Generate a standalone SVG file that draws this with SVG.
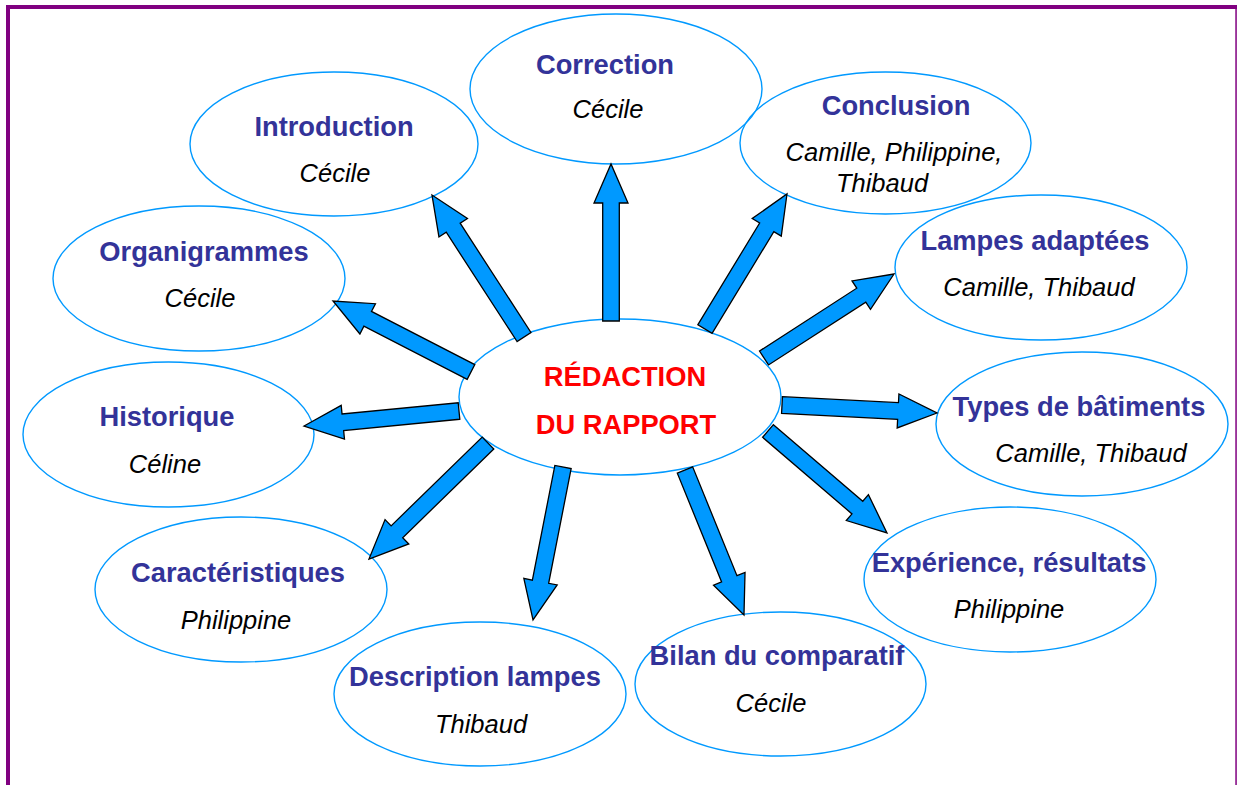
<svg xmlns="http://www.w3.org/2000/svg" width="1237" height="785" viewBox="0 0 1237 785">
<style>
.node ellipse{fill:none;stroke:#0099FF;stroke-width:1.4}
.t{font-family:"Liberation Sans",Arial,sans-serif;font-weight:bold;font-size:27.3px;fill:#333399;text-anchor:middle}
.s{font-family:"Liberation Sans",Arial,sans-serif;font-style:italic;font-size:25.5px;fill:#000;text-anchor:middle}
.c{font-family:"Liberation Sans",Arial,sans-serif;font-weight:bold;font-size:27.3px;fill:#FF0000;text-anchor:middle}
.arr polygon{fill:#0099FF;stroke:#000;stroke-width:1.3;stroke-linejoin:miter}
</style>
<rect width="1237" height="785" fill="#fff"/>
<g id="border" fill="#800080">
<rect x="6" y="5" width="1231" height="4"/>
<rect x="6" y="5" width="4" height="780"/>
<rect x="1235.3" y="5" width="1.5" height="780"/>
</g>
<g id="n-center" class="node"><ellipse cx="620" cy="397" rx="161" ry="78"/><text class="c" x="625" y="386">RÉDACTION</text><text class="c" x="626" y="434">DU RAPPORT</text></g>
<g id="n-correction" class="node"><ellipse cx="616" cy="89" rx="146" ry="75"/><text class="t" x="605" y="74">Correction</text><text class="s" x="608" y="118">Cécile</text></g>
<g id="n-introduction" class="node"><ellipse cx="334" cy="144" rx="144" ry="72"/><text class="t" x="334" y="136">Introduction</text><text class="s" x="335" y="182">Cécile</text></g>
<g id="n-conclusion" class="node"><ellipse cx="885.5" cy="143" rx="145.5" ry="71"/><text class="t" x="896" y="115">Conclusion</text><text class="s" x="894" y="161">Camille, Philippine,</text><text class="s" x="882" y="192">Thibaud</text></g>
<g id="n-organigrammes" class="node"><ellipse cx="199" cy="278.5" rx="146" ry="72.5"/><text class="t" x="204" y="261">Organigrammes</text><text class="s" x="200" y="307">Cécile</text></g>
<g id="n-lampes" class="node"><ellipse cx="1041" cy="267.5" rx="146" ry="72.5"/><text class="t" x="1035" y="250">Lampes adaptées</text><text class="s" x="1039" y="296">Camille, Thibaud</text></g>
<g id="n-historique" class="node"><ellipse cx="168.5" cy="434.5" rx="145.5" ry="72.5"/><text class="t" x="167" y="426">Historique</text><text class="s" x="165" y="473">Céline</text></g>
<g id="n-types" class="node"><ellipse cx="1082" cy="424" rx="146" ry="72"/><text class="t" x="1079" y="416">Types de bâtiments</text><text class="s" x="1091" y="462">Camille, Thibaud</text></g>
<g id="n-caracteristiques" class="node"><ellipse cx="241" cy="589.5" rx="146" ry="72.5"/><text class="t" x="238" y="582">Caractéristiques</text><text class="s" x="236" y="629">Philippine</text></g>
<g id="n-experience" class="node"><ellipse cx="1010" cy="579.5" rx="146" ry="72.5"/><text class="t" x="1009" y="572">Expérience, résultats</text><text class="s" x="1009" y="618">Philippine</text></g>
<g id="n-description" class="node"><ellipse cx="480" cy="694" rx="146" ry="72"/><text class="t" x="475" y="686">Description lampes</text><text class="s" x="481" y="733">Thibaud</text></g>
<g id="n-bilan" class="node"><ellipse cx="780.5" cy="684" rx="145.5" ry="72"/><text class="t" x="777" y="665">Bilan du comparatif</text><text class="s" x="771" y="712">Cécile</text></g>
<g id="connectors" class="arr">
<polygon transform="translate(524 337) rotate(-122.94)" points="0,-8.3 130.2,-8.3 130.2,-17 169.2,0 130.2,17 130.2,8.3 0,8.3"/>
<polygon transform="translate(611 321) rotate(-90)" points="0,-8.3 118,-8.3 118,-17 157,0 118,17 118,8.3 0,8.3"/>
<polygon transform="translate(705 329) rotate(-58.73)" points="0,-8.3 118.95,-8.3 118.95,-17 157.95,0 118.95,17 118.95,8.3 0,8.3"/>
<polygon transform="translate(764 358) rotate(-32.87)" points="0,-8.3 115.8,-8.3 115.8,-17 154.8,0 115.8,17 115.8,8.3 0,8.3"/>
<polygon transform="translate(782 405) rotate(2.95)" points="0,-8.3 116.2,-8.3 116.2,-17 155.2,0 116.2,17 116.2,8.3 0,8.3"/>
<polygon transform="translate(768 431) rotate(40.6)" points="0,-8.3 117.7,-8.3 117.7,-17 156.7,0 117.7,17 117.7,8.3 0,8.3"/>
<polygon transform="translate(685 470) rotate(67.86)" points="0,-8.3 117.5,-8.3 117.5,-17 156.5,0 117.5,17 117.5,8.3 0,8.3"/>
<polygon transform="translate(563 467) rotate(101.09)" points="0,-8.3 116.9,-8.3 116.9,-17 155.9,0 116.9,17 116.9,8.3 0,8.3"/>
<polygon transform="translate(488 443) rotate(135.73)" points="0,-8.3 127.2,-8.3 127.2,-17 166.2,0 127.2,17 127.2,8.3 0,8.3"/>
<polygon transform="translate(459 411) rotate(174.47)" points="0,-8.3 116.7,-8.3 116.7,-17 155.7,0 116.7,17 116.7,8.3 0,8.3"/>
<polygon transform="translate(471 372) rotate(-152.77)" points="0,-8.3 116.2,-8.3 116.2,-17 155.2,0 116.2,17 116.2,8.3 0,8.3"/>
</g>
</svg>
